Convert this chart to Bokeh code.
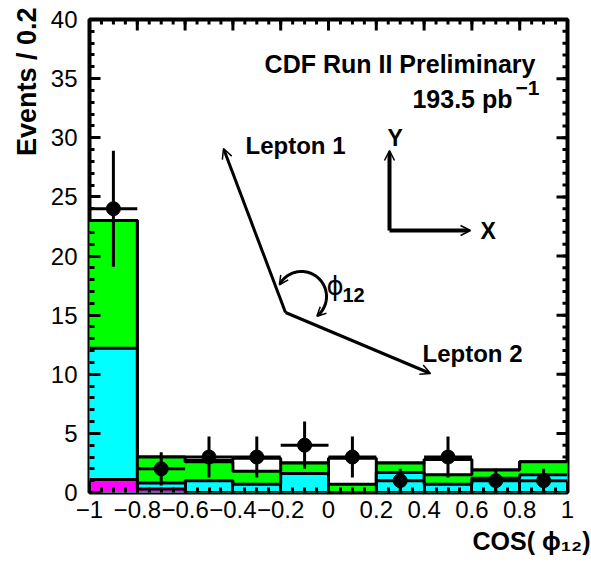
import numpy as np
from bokeh.plotting import figure
from bokeh.models import Range1d, FixedTicker, Label, Arrow, OpenHead, Title
from bokeh.embed import file_html
from bokeh.resources import INLINE

# ---------------- data ----------------
bin_edges = [-1.0, -0.8, -0.6, -0.4, -0.2, 0.0, 0.2, 0.4, 0.6, 0.8, 1.0]
data_counts = [24, 2, 3, 3, 4, 3, 1, 3, 1, 1]
magenta_bkg = [1.1, 0.3, 0.0, 0.0, 0.0, 0.0, 0.0, 0.0, 0.0, 0.0]
cyan_bkg = [11.1, 0.5, 1.0, 0.7, 1.6, 0.0, 1.7, 0.7, 1.2, 1.5]
green_bkg = [10.8, 2.2, 1.6, 1.1, 0.9, 0.7, 0.8, 0.8, 0.7, 1.1]
white_bkg = [0.0, 0.0, 0.1, 1.1, 0.0, 2.2, 0.0, 1.3, 0.0, 0.0]

x_ticks = [-1.0, -0.8, -0.6, -0.4, -0.2, 0.0, 0.2, 0.4, 0.6, 0.8, 1.0]
x_tick_labels = ["\u22121", "\u22120.8", "\u22120.6", "\u22120.4", "\u22120.2", "0",
                 "0.2", "0.4", "0.6", "0.8", "1"]
y_ticks = [0, 5, 10, 15, 20, 25, 30, 35, 40]

# ---------------- layout (pixels) ----------------
W, H = 591, 566
FRAME_L, FRAME_R, FRAME_T, FRAME_B = 89, 567, 19, 492
XMIN, XMAX, YMIN, YMAX = -1.0, 1.0, 0.0, 40.0
XPX = (FRAME_R - FRAME_L) / (XMAX - XMIN)
YPX = (FRAME_B - FRAME_T) / (YMAX - YMIN)


def px2x(px):
    return XMIN + (px - FRAME_L) / XPX


def px2y(py):
    return YMIN + (FRAME_B - py) / YPX


FONT = "Liberation Sans"

p = figure(width=W, height=H, x_range=Range1d(XMIN, XMAX), y_range=Range1d(YMIN, YMAX),
           output_backend="svg", toolbar_location=None,
           min_border_left=FRAME_L, min_border_right=W - FRAME_R,
           min_border_top=FRAME_T, min_border_bottom=H - FRAME_B)
p.xgrid.visible = False
p.ygrid.visible = False
p.background_fill_color = "white"
p.border_fill_color = "white"
p.outline_line_color = "black"
p.outline_line_width = 4

bottom_axis = p.below[0]
left_axis = p.left[0]

x_minor = np.round(np.arange(-1.0, 1.0001, 0.05), 3)
y_minor = np.arange(0, 41)

# ---------------- top / right inward ticks ----------------
MAJ, MIN = 11, 5
p.segment(x0=x_ticks, y0=YMAX, x1=x_ticks, y1=YMAX - MAJ / YPX, line_color="black", line_width=3)
p.segment(x0=x_minor, y0=YMAX, x1=x_minor, y1=YMAX - MIN / YPX, line_color="black", line_width=3)
p.segment(x0=XMAX, y0=y_ticks, x1=XMAX - MAJ / XPX, y1=y_ticks, line_color="black", line_width=3)
p.segment(x0=XMAX, y0=y_minor, x1=XMAX - MIN / XPX, y1=y_minor, line_color="black", line_width=3)

# ---------------- stacked histogram ----------------
edges = np.array(bin_edges)
mag = np.array(magenta_bkg)
cya = np.array(cyan_bkg)
gre = np.array(green_bkg)
whi = np.array(white_bkg)
cum_mag = mag
cum_cya = cum_mag + cya
cum_gre = cum_cya + gre
cum_whi = cum_gre + whi

xs = np.repeat(edges, 2)[1:-1]
for color, tops in [("white", cum_whi), ("#00ff00", cum_gre), ("#00ffff", cum_cya), ("#ff00ff", cum_mag)]:
    ys = np.repeat(tops, 2)
    p.varea(x=xs, y1=np.zeros_like(ys), y2=ys, fill_color=color)
    p.line(x=xs, y=ys, line_color="black", line_width=3)

# ---------------- data points ----------------
counts = np.array(data_counts, dtype=float)
centers = (edges[:-1] + edges[1:]) / 2
err = np.sqrt(counts)
p.segment(x0=centers, y0=counts - err, x1=centers, y1=counts + err, line_color="black", line_width=3)
p.segment(x0=edges[:-1], y0=counts, x1=edges[1:], y1=counts, line_color="black", line_width=3)
p.scatter(x=centers, y=counts, size=14, color="black")

# ---------------- axes ----------------
bottom_axis.ticker = FixedTicker(ticks=x_ticks, minor_ticks=list(x_minor))
left_axis.ticker = FixedTicker(ticks=y_ticks, minor_ticks=list(y_minor))
bottom_axis.major_label_overrides = dict(zip(x_ticks, x_tick_labels))

for ax in [bottom_axis, left_axis]:
    ax.axis_line_color = None
    ax.major_tick_in = MAJ
    ax.major_tick_out = 0
    ax.minor_tick_in = MIN
    ax.minor_tick_out = 0
    ax.major_tick_line_width = 3
    ax.minor_tick_line_width = 3
    ax.major_tick_line_color = "black"
    ax.minor_tick_line_color = "black"
    ax.major_label_text_font = FONT
    ax.major_label_text_font_size = "24px"
    ax.major_label_text_color = "black"

left_axis.major_label_standoff = 12
bottom_axis.major_label_standoff = 8

# axis titles (as side-panel titles so they sit outside the frame)
p.add_layout(Title(text="Events / 0.2", align="right", text_font=FONT, text_font_size="27px",
                   text_font_style="bold", text_color="black", standoff=12, offset=-12), "left")
p.add_layout(Title(text="COS( \u03d5\u2081\u2082)", align="right", text_font=FONT, text_font_size="25px",
                   text_font_style="bold", text_color="black", standoff=8, offset=-23), "below")

# ---------------- texts ----------------
def add_text(txt, px, py, size, align="left", bold=True, baseline="alphabetic", font=FONT):
    p.add_layout(Label(x=px2x(px), y=px2y(py), text=txt, text_font=font,
                       text_font_size=f"{size}px", text_font_style="bold" if bold else "normal",
                       text_align=align, text_baseline=baseline, text_color="black"))


add_text("CDF Run II Preliminary", 535, 63, 25, align="right")
add_text("193.5 pb", 512, 98, 25, align="right")
add_text("\u22121", 515, 87, 21)
add_text("Lepton 1", 245, 145, 24)
add_text("Lepton 2", 422, 353, 24)
add_text("Y", 387, 137, 23)
add_text("X", 480, 230, 23)
add_text("\u03d5", 326, 285, 26, bold=False, font="DejaVu Sans")
add_text("12", 342, 294, 20)

# ---------------- diagram ----------------
vertex = (285, 312)
lepton1_tip = (223, 148)
lepton2_tip = (430, 373)
xy_origin = (389, 230)
y_tip = (389, 150)
x_tip = (470, 230)


def add_arrow(a, b, width=3, head=10):
    p.add_layout(Arrow(end=OpenHead(size=head, line_width=1.5, line_color="black"),
                       x_start=px2x(a[0]), y_start=px2y(a[1]), x_end=px2x(b[0]), y_end=px2y(b[1]),
                       line_width=width, line_color="black"))


add_arrow(vertex, lepton1_tip)
add_arrow(vertex, lepton2_tip)
add_arrow(xy_origin, y_tip, width=4)
add_arrow(xy_origin, x_tip, width=4)

# angle arc (screen pixels, y down)
arc_c = (301, 296)
arc_r = 25
th = np.radians(np.linspace(150, -50, 60))
arc_px = arc_c[0] + arc_r * np.cos(th)
arc_py = arc_c[1] - arc_r * np.sin(th)
p.line(x=[px2x(v) for v in arc_px], y=[px2y(v) for v in arc_py], line_color="black", line_width=3)


def arc_head(t0, t1):
    a0 = (arc_c[0] + arc_r * np.cos(np.radians(t0)), arc_c[1] - arc_r * np.sin(np.radians(t0)))
    a1 = (arc_c[0] + arc_r * np.cos(np.radians(t1)), arc_c[1] - arc_r * np.sin(np.radians(t1)))
    p.add_layout(Arrow(end=OpenHead(size=9, line_width=1.5, line_color="black"),
                       x_start=px2x(a0[0]), y_start=px2y(a0[1]), x_end=px2x(a1[0]), y_end=px2y(a1[1]),
                       line_width=0, line_alpha=0))


arc_head(140, 152)
arc_head(-40, -52)

open("out.html", "w").write(file_html(p, INLINE))
